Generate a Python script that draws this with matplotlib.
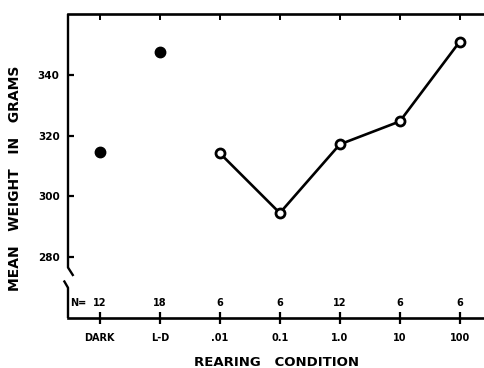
import matplotlib
matplotlib.use("Agg")
import matplotlib.pyplot as plt
import matplotlib.transforms as mtransforms

# data
conditions = ["DARK", "L-D", ".01", "0.1", "1.0", "10", "100"]
n_per_group = ["12", "18", "6", "6", "12", "6", "6"]
mean_weight = [314.6, 347.9, 314.3, 294.5, 317.2, 324.8, 351.2]
control_idx = [0, 1]          # DARK and L-D shown as filled dots
light_idx = [2, 3, 4, 5, 6]   # intensity series, open circles joined by line

plt.rcParams['font.family'] = ['DejaVu Sans']
plt.rcParams['font.weight'] = 'bold'

W, H = 485, 368
fig = plt.figure(figsize=(W / 100, H / 100), dpi=100)
left, top, bottom = 68, 14, 318
ax = fig.add_axes([left / W, 1 - bottom / H, 1 - left / W, (bottom - top) / H])

ax.set_xlim(-0.53, 6.42)
ax.set_ylim(259.8, 360.3)

# controls
ax.plot([control_idx[0], control_idx[1]],
        [mean_weight[i] for i in control_idx],
        'o', color='black', markersize=7.5, linestyle='none')

# light intensity series
ax.plot(light_idx, [mean_weight[i] for i in light_idx],
        '-o', color='black', lw=1.9, markersize=6.5,
        markerfacecolor='white', markeredgewidth=2)

# spines
for s in ['right', 'left']:
    ax.spines[s].set_visible(False)
for s in ['top', 'bottom']:
    ax.spines[s].set_linewidth(1.9)

# broken left axis drawn by hand
xl = -0.53
ax.plot([xl, xl, -0.44], [360.3, 276.5, 273.7], color='black', lw=1.7,
        clip_on=False, solid_capstyle='butt')
ax.plot([-0.6, -0.53, -0.53], [272.2, 269.8, 259.8], color='black', lw=1.7,
        clip_on=False, solid_capstyle='butt')

# y ticks
ax.set_yticks([280, 300, 320, 340])
ax.tick_params(axis='y', direction='in', length=4, width=1.6, pad=6,
               labelsize=7.5)

# x ticks
ax.set_xticks(range(len(conditions)))
ax.set_xticklabels(conditions, fontsize=7, fontweight='bold')
ax.tick_params(axis='x', direction='inout', length=8, width=1.6, pad=7)

top_ax = ax.secondary_xaxis('top')
top_ax.set_xticks(range(len(conditions)))
top_ax.tick_params(direction='in', length=4, width=1.4, labeltop=False)
top_ax.spines['top'].set_visible(False)

# group sizes above the x axis
trans = mtransforms.blended_transform_factory(ax.transData, ax.transAxes)
for i, n in enumerate(n_per_group):
    ax.text(i, 0.05, n, transform=trans, ha='center', va='center',
            fontsize=7, fontweight='bold')
ax.text(-0.22, 0.05, "N=", transform=trans, ha='right', va='center',
        fontsize=7, fontweight='bold')

ax.set_xlabel("REARING   CONDITION", fontsize=9.5, fontweight='bold',
              labelpad=9)
ax.set_ylabel("MEAN   WEIGHT   IN   GRAMS", fontsize=10, fontweight='bold')
ax.yaxis.set_label_coords(-46 / (W - left), (bottom - 178) / (bottom - top))

fig.savefig("out.png", dpi=100)
